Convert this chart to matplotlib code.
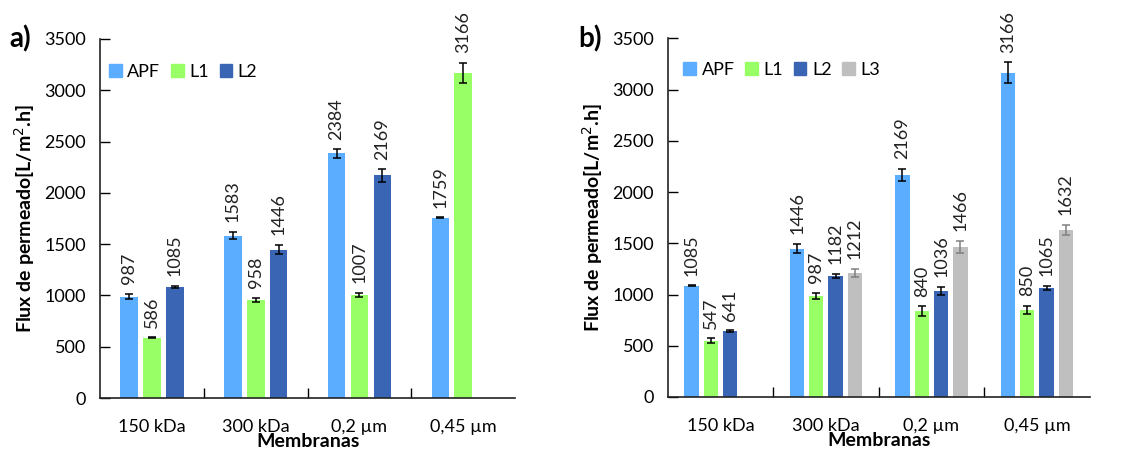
import numpy as np
import matplotlib
matplotlib.use('Agg')
import matplotlib.pyplot as plt
import matplotlib.patches as mpatches

plt.rcParams['font.family'] = ['Lato', 'DejaVu Sans']

membranes = ['150 kDa', '300 kDa', '0,2 µm', '0,45 µm']

# panel a)
a_series = ['APF', 'L1', 'L2']
a_apf = [987, 1583, 2384, 1759]
a_l1 = [586, 958, 1007, 3166]
a_l2 = [1085, 1446, 2169, np.nan]
a_apf_err = [25, 35, 40, 3]
a_l1_err = [5, 20, 20, 100]
a_l2_err = [8, 45, 60, np.nan]

# panel b)
b_series = ['APF', 'L1', 'L2', 'L3']
b_apf = [1085, 1446, 2169, 3166]
b_l1 = [547, 987, 840, 850]
b_l2 = [641, 1182, 1036, 1065]
b_l3 = [np.nan, 1212, 1466, 1632]
b_apf_err = [5, 45, 60, 100]
b_l1_err = [25, 30, 45, 40]
b_l2_err = [10, 20, 40, 20]
b_l3_err = [np.nan, 40, 60, 50]

colors = {'APF': '#5aadff', 'L1': '#99ff66', 'L2': '#3a65b5', 'L3': '#bfbfbf'}
err_colors = {'APF': 'black', 'L1': 'black', 'L2': 'black', 'L3': '#808080'}


def draw_panel(ax, series, values, errors, spacing, width, legend_anchor):
    x = np.arange(len(membranes))
    n = len(series)
    for i, (name, vals, errs) in enumerate(zip(series, values, errors)):
        pos = x + (i - (n - 1) / 2) * spacing
        vals = np.array(vals, dtype=float)
        errs = np.array(errs, dtype=float)
        ok = ~np.isnan(vals)
        ax.bar(pos[ok], vals[ok], width=width, color=colors[name], zorder=2)
        ax.errorbar(pos[ok], vals[ok], yerr=errs[ok], fmt='none',
                    ecolor=err_colors[name], elinewidth=1.1, capsize=3,
                    capthick=1.1, zorder=3)
        for p, v, e in zip(pos[ok], vals[ok], errs[ok]):
            ax.annotate(f'{int(v)}', (p, v + e), xytext=(0, 7),
                        textcoords='offset points', rotation=90,
                        ha='center', va='bottom', fontsize=13,
                        color='#222222')

    ax.set_xlim(-0.5, len(membranes) - 0.5)
    ax.set_ylim(0, 3500)
    ax.set_yticks(np.arange(0, 3501, 500))
    ax.set_xticks(x)
    ax.set_xticklabels(membranes)
    ax.set_xticks(np.arange(0.5, len(membranes) - 0.5, 1), minor=True)
    ax.tick_params(axis='x', which='major', length=0, pad=15, labelsize=13)
    ax.tick_params(axis='x', which='minor', direction='in', length=7, width=1)
    ax.tick_params(axis='y', direction='in', length=7, width=1, labelsize=13, pad=10)
    ax.spines['top'].set_visible(False)
    ax.spines['right'].set_visible(False)
    for s in ['left', 'bottom']:
        ax.spines[s].set_linewidth(1.2)
        ax.spines[s].set_color('#222222')
    ax.set_xlabel('Membranas', fontweight='bold', fontsize=14, labelpad=-1)
    ax.set_ylabel('Flux de permeado[L/m$^{2}$.h]', fontweight='bold', fontsize=14, labelpad=5)

    handles = [mpatches.Patch(color=colors[s], label=s) for s in series]
    ax.legend(handles=handles, loc='upper left', bbox_to_anchor=legend_anchor,
              ncol=len(series), frameon=False, fontsize=13, handlelength=0.7,
              handleheight=0.7, handletextpad=0.3, columnspacing=0.6,
              borderaxespad=0)


fig = plt.figure(figsize=(11.28, 4.54), dpi=100)
ax_a = fig.add_axes([0.0887, 0.1233, 0.368, 0.791])
ax_b = fig.add_axes([0.592, 0.1256, 0.374, 0.790])

draw_panel(ax_a, a_series, [a_apf, a_l1, a_l2], [a_apf_err, a_l1_err, a_l2_err],
           0.22, 0.17, (0.005, 0.95))
draw_panel(ax_b, b_series, [b_apf, b_l1, b_l2, b_l3],
           [b_apf_err, b_l1_err, b_l2_err, b_l3_err], 0.183, 0.136, (0.02, 0.955))

fig.text(0.008, 0.915, 'a)', fontsize=20, fontweight='bold', va='center')
fig.text(0.513, 0.915, 'b)', fontsize=20, fontweight='bold', va='center')

fig.savefig('out.png', dpi=100)
